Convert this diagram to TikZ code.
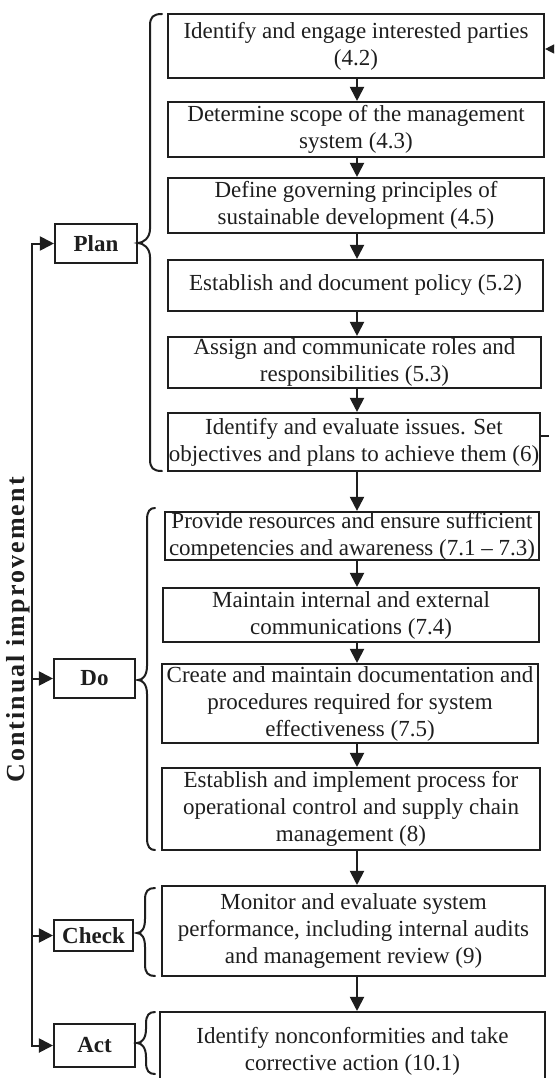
\documentclass[tikz,border=0pt]{standalone}
\usepackage{fontspec}
\setmainfont{Liberation Serif}
\usetikzlibrary{arrows.meta}
\definecolor{ink}{HTML}{1E1E1E}
\tikzset{
  box/.style={draw=ink, line width=2.1pt, inner sep=0pt, align=center, text=ink,
    font=\fontsize{23}{27}\selectfont},
  phase/.style={draw=ink, line width=2.1pt, inner sep=0pt, align=center, text=ink,
    font=\fontsize{23}{27}\selectfont\bfseries},
  arr/.style={draw=ink, line width=2pt, -{Triangle[length=14pt,width=14pt]}},
  plainline/.style={draw=ink, line width=2pt},
  bracestyle/.style={draw=ink, line width=2pt, line cap=round}
}
\newcommand\mybrace[6]{% endx, spinex, tipx, topy, tipy, boty
  \draw[bracestyle] (#1,#4) .. controls (#2+3,#4) and (#2,#4+3) .. (#2,#4+12)
    -- (#2,#5-14) .. controls (#2,#5-5) and (#3+5,#5) .. (#3,#5)
    .. controls (#3+5,#5) and (#2,#5+5) .. (#2,#5+14)
    -- (#2,#6-12) .. controls (#2,#6-3) and (#2+3,#6) .. (#1,#6);}
\begin{document}
\begin{tikzpicture}[x=1pt,y=-1pt]
\path[use as bounding box, clip] (0,0) rectangle (554,1078);
\fill[white] (0,0) rectangle (554,1078);

% process boxes
\node[box, minimum width=376pt, minimum height=64pt] (b1) at (356,46) {Identify and engage interested parties\\(4.2)};
\node[box, minimum width=376pt, minimum height=55pt] (b2) at (356,129.5) {Determine scope of the management\\system (4.3)};
\node[box, minimum width=376pt, minimum height=55pt] (b3) at (356,205.5) {Define governing principles of\\sustainable development (4.5)};
\node[box, minimum width=375pt, minimum height=51pt] (b4) at (355.5,285.5) {Establish and document policy (5.2)};
\node[box, minimum width=373pt, minimum height=51pt] (b5) at (354.5,362.5) {Assign and communicate roles and\\responsibilities (5.3)};
\node[box, minimum width=372pt, minimum height=58pt] (b6) at (354,442) {Identify and evaluate issues. Set\\objectives and plans to achieve them (6)};
\node[box, minimum width=374pt, minimum height=48pt] (b7) at (352,536) {Provide resources and ensure sufficient\\competencies and awareness (7.1 -- 7.3)};
\node[box, minimum width=376pt, minimum height=54pt] (b8) at (351,615) {Maintain internal and external\\communications (7.4)};
\node[box, minimum width=376pt, minimum height=79pt] (b9) at (350,703.5) {Create and maintain documentation and\\procedures required for system\\effectiveness (7.5)};
\node[box, minimum width=378pt, minimum height=82pt] (b10) at (351,809) {Establish and implement process for\\operational control and supply chain\\management (8)};
\node[box, minimum width=383pt, minimum height=90pt] (b11) at (353.5,931) {Monitor and evaluate system\\performance, including internal audits\\and management review (9)};
\node[box, minimum width=385pt, minimum height=78pt] (b12) at (352.5,1051) {Identify nonconformities and take\\corrective action (10.1)};

% phase boxes
\node[phase, minimum width=82pt, minimum height=39pt] (plan) at (96,243.5) {Plan};
\node[phase, minimum width=81pt, minimum height=39pt] (do) at (94.5,678.5) {Do};
\node[phase, minimum width=79pt, minimum height=31pt] (check) at (93.5,935.5) {Check};
\node[phase, minimum width=81pt, minimum height=43pt] (act) at (94.5,1045.5) {Act};

% continual improvement label
\node[rotate=90, inner sep=0pt, text=ink,
  font={\fontsize{26}{30}\selectfont\bfseries\addfontfeature{LetterSpace=8}}] (ci) at (18,630) {Continual improvement};

% vertical flow arrows
\coordinate (ax) at (357,0);
\foreach \a/\b in {b1/b2,b2/b3,b3/b4,b4/b5,b5/b6,b6/b7,b7/b8,b8/b9,b9/b10,b10/b11,b11/b12}
  \draw[arr] (\a.south -| ax) -- (\b.north -| ax);

% feedback loop on the left
\coordinate (L) at (32,0);
\draw[arr] (act.west -| L) |- (plan.west);
\draw[arr] (plan.west -| L) |- (act.west);
\draw[arr] (do.west -| L) -- (do.west);
\draw[arr] (check.west -| L) -- (check.west);

% feedback arrow into first box (cropped)
\coordinate (fb) at (570,49);
\draw[arr] (fb) -- (fb -| b1.east);
% tick out of box 6 (cropped)
\coordinate (tk) at (549,436);
\draw[plainline] (tk -| b6.east) -- (tk);

% braces
\mybrace{162}{150}{138}{14}{243}{471}
\mybrace{155}{147}{138}{508}{680}{850}
\mybrace{155}{145}{137}{888}{933}{976}
\mybrace{155}{146}{137}{1012}{1043}{1074}
\end{tikzpicture}
\end{document}
